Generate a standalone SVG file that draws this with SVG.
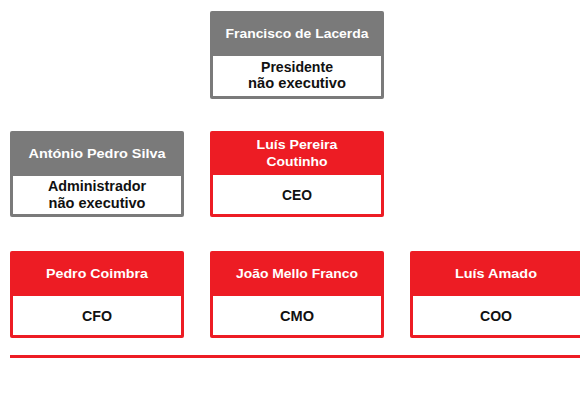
<svg xmlns="http://www.w3.org/2000/svg" width="580" height="414" viewBox="0 0 580 414">
<style>
.gray{fill:#7a7a7a}
.red{fill:#ed1c24}
.body{fill:#ffffff}
text{font-family:"Liberation Sans",Arial,sans-serif;font-weight:bold;font-size:13px;text-anchor:middle}
.t{fill:#ffffff}
.b{fill:#111111;font-size:14px}
</style>
<rect width="580" height="414" fill="#ffffff"/>
<g id="francisco">
<rect class="gray" x="210" y="11" width="174" height="88" rx="2"/>
<rect class="body" x="213" y="56" width="168" height="40"/>
<text class="t" x="297" y="38" textLength="143" lengthAdjust="spacingAndGlyphs">Francisco de Lacerda</text>
<text class="b" x="297" y="72" textLength="72" lengthAdjust="spacingAndGlyphs">Presidente</text>
<text class="b" x="297" y="88" textLength="98" lengthAdjust="spacingAndGlyphs">não executivo</text>
</g>
<g id="antonio">
<rect class="gray" x="10" y="131" width="174" height="86" rx="2"/>
<rect class="body" x="13" y="176" width="168" height="38"/>
<text class="t" x="97" y="158" textLength="137" lengthAdjust="spacingAndGlyphs">António Pedro Silva</text>
<text class="b" x="97" y="191" textLength="98" lengthAdjust="spacingAndGlyphs">Administrador</text>
<text class="b" x="97" y="208" textLength="97" lengthAdjust="spacingAndGlyphs">não executivo</text>
</g>
<g id="luis-pereira">
<rect class="red" x="210" y="131" width="174" height="86" rx="2"/>
<rect class="body" x="213" y="175" width="168" height="39"/>
<text class="t" x="297" y="149" textLength="81" lengthAdjust="spacingAndGlyphs">Luís Pereira</text>
<text class="t" x="297" y="166" textLength="61" lengthAdjust="spacingAndGlyphs">Coutinho</text>
<text class="b" x="297" y="200" textLength="30" lengthAdjust="spacingAndGlyphs">CEO</text>
</g>
<g id="pedro">
<rect class="red" x="10" y="251" width="174" height="87" rx="2"/>
<rect class="body" x="13" y="296" width="168" height="39"/>
<text class="t" x="97" y="278" textLength="102" lengthAdjust="spacingAndGlyphs">Pedro Coimbra</text>
<text class="b" x="97" y="321" textLength="30" lengthAdjust="spacingAndGlyphs">CFO</text>
</g>
<g id="joao">
<rect class="red" x="210" y="251" width="174" height="87" rx="2"/>
<rect class="body" x="213" y="296" width="168" height="39"/>
<text class="t" x="297" y="278" textLength="122" lengthAdjust="spacingAndGlyphs">João Mello Franco</text>
<text class="b" x="297" y="321" textLength="34" lengthAdjust="spacingAndGlyphs">CMO</text>
</g>
<g id="luis-amado">
<rect class="red" x="410" y="251" width="174" height="87" rx="2"/>
<rect class="body" x="413" y="296" width="168" height="39"/>
<text class="t" x="496" y="278" textLength="82" lengthAdjust="spacingAndGlyphs">Luís Amado</text>
<text class="b" x="496" y="321" textLength="32" lengthAdjust="spacingAndGlyphs">COO</text>
</g>
<g id="connectors">
<rect class="red" x="10" y="355" width="570" height="3"/>
</g>
</svg>
